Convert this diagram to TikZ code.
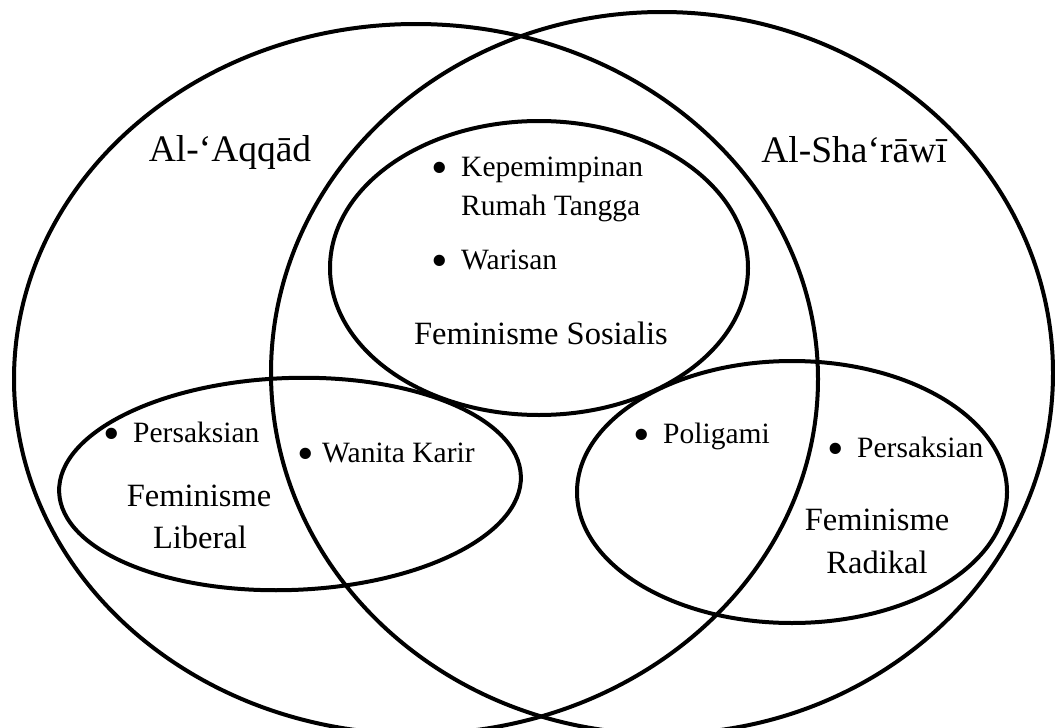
\documentclass[tikz,border=0pt]{standalone}
\usepackage{fontspec}
\setmainfont{Liberation Serif}
\newcommand{\bigdot}[1]{\llap{\raisebox{-7.5pt}{\scalebox{1.6}{\textbullet}}\hspace{#1}}}
\begin{document}
\begin{tikzpicture}[x=1pt,y=-1pt,
  venn/.style={draw=black,line width=4pt},
  bigtxt/.style={inner sep=0pt,anchor=base,font=\fontsize{37.5}{44}\selectfont},
  femtxt/.style={inner sep=0pt,anchor=base,font=\fontsize{32.5}{38}\selectfont},
  item/.style={inner sep=0pt,anchor=base west,font=\fontsize{29.5}{35}\selectfont}]
\useasboundingbox[fill=white] (0,0) rectangle (1055,728);
% centres of the sets
\coordinate (cA) at (416,379);
\coordinate (cS) at (662,373);
\coordinate (cSos) at (539,268);
\coordinate (cLib) at (290,484);
\coordinate (cRad) at (792,492);
% big sets
\draw[venn] (cA) ellipse [x radius=402, y radius=355];
\draw[venn] (cS) ellipse [x radius=391, y radius=361];
% inner sets
\draw[venn] (cSos) ellipse [x radius=209, y radius=147];
\draw[venn, rotate around={2:(cLib)}] (cLib) ellipse [x radius=231, y radius=106];
\draw[venn] (cRad) ellipse [x radius=215, y radius=131];
% labels of the big sets
\node[bigtxt] (lA) at (230,161) {Al-‘Aqqād};
\node[bigtxt] (lS) at (854,162) {Al-Sha‘rāwī};
% sosialis
\node[item] (k1) at (461,176) {\bigdot{12.8pt}Kepemimpinan};
\node[item] (k2) at (461,215) {Rumah Tangga};
\node[item] (w1) at (461,269) {\bigdot{12.8pt}Warisan};
\node[femtxt] (fsos) at (541,344) {Feminisme Sosialis};
% liberal
\node[item] (p1) at (133,442) {\bigdot{12.8pt}Persaksian};
\node[item] (wk) at (322,462) {\bigdot{7.8pt}Wanita Karir};
\node[femtxt] (flib1) at (199,506) {Feminisme};
\node[femtxt] (flib2) at (200,548) {Liberal};
% radikal
\node[item] (pg) at (663,443) {\bigdot{12.8pt}Poligami};
\node[item] (p2) at (857,457) {\bigdot{12.8pt}Persaksian};
\node[femtxt] (frad1) at (877,530) {Feminisme};
\node[femtxt] (frad2) at (877,573) {Radikal};
\end{tikzpicture}
\end{document}
